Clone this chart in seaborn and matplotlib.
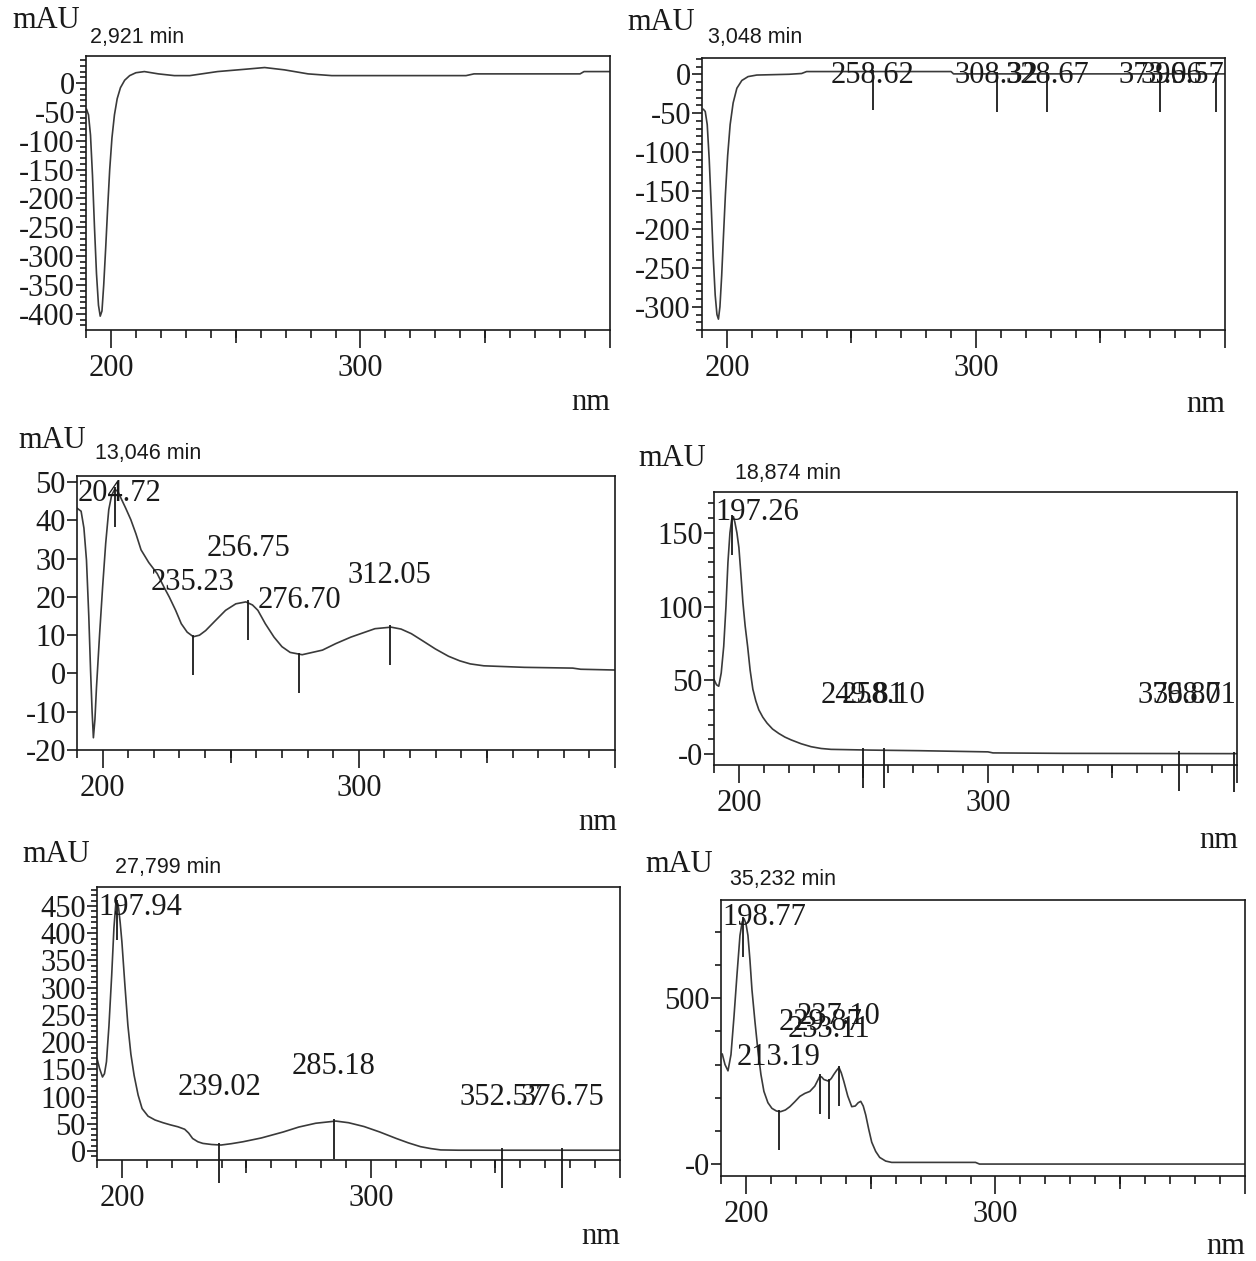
import matplotlib
matplotlib.use('Agg')
import matplotlib.pyplot as plt
import seaborn as sns
import pandas as pd
import numpy as np

sns.set_theme(style='ticks')
plt.rcParams['font.family'] = ['Liberation Serif', 'DejaVu Serif']

# ---- spectra (wavelength nm, absorbance mAU) ----
times = ['2,921 min', '3,048 min', '13,046 min', '18,874 min', '27,799 min', '35,232 min']

s1_nm = [190.2, 191.0, 191.8, 192.6, 193.4, 194.2, 195.0, 195.7, 196.4, 197.1, 197.9, 198.7,
         199.5, 200.4, 201.4, 202.5, 203.8, 205.5, 207.5, 210.0, 213.4, 219.0, 225.4, 231.6,
         242.7, 253.7, 261.6, 269.5, 279.0, 288.5, 342.3, 345.5, 388.0, 389.6, 400.0]
s1_mau = [-45, -55, -90, -160, -250, -330, -385, -404, -395, -350, -285, -215,
          -150, -95, -55, -27, -8, 5, 13, 18, 20, 16, 13, 13,
          20, 24, 27, 23, 16, 13, 13, 16, 16, 20, 20]

s2_nm = [190.5, 191.3, 192.1, 192.9, 193.7, 194.5, 195.3, 196.0, 196.6, 197.2, 197.9, 198.6,
         199.4, 200.3, 201.3, 202.5, 204.0, 206.0, 208.5, 212.0, 225.0, 230.0, 232.0, 290.0,
         291.0, 400.0]
s2_mau = [-45, -48, -65, -110, -170, -235, -285, -310, -316, -300, -260, -210,
          -155, -105, -65, -37, -18, -8, -3, -1, 0, 1, 3.5, 3.5,
          0.5, 0.5]

s3_nm = [190.0, 191.6, 192.7, 193.7, 194.6, 195.3, 195.9, 196.4, 197.0, 197.6, 198.8, 200.0,
         201.2, 202.4, 203.5, 204.7, 205.9, 207.1, 209.0, 211.0, 213.0, 215.0, 218.0, 221.3,
         224.0, 226.0, 228.5, 230.7, 233.0, 235.4, 237.8, 240.2, 244.0, 248.0, 252.0, 255.9,
         258.5, 260.6, 263.5, 266.9, 270.0, 273.2, 277.9, 285.8, 291.0, 296.9, 306.3, 312.6,
         316.5, 320.5, 325.0, 329.9, 335.0, 339.4, 343.5, 348.8, 364.6, 383.5, 386.6, 400.0]
s3_mau = [43.2, 42.4, 38.0, 29.6, 15.0, 0.7, -10.0, -16.8, -12.0, -3.7, 10.0, 22.6,
          34.0, 42.8, 46.5, 48.1, 47.6, 45.9, 43.2, 40.2, 36.5, 32.3, 29.0, 26.1,
          22.5, 20.0, 16.5, 13.0, 10.8, 9.6, 10.0, 11.2, 13.8, 16.5, 18.2, 18.7,
          17.9, 16.5, 13.0, 9.5, 7.0, 5.5, 4.9, 6.1, 7.8, 9.5, 11.7, 12.1,
          11.6, 10.4, 8.5, 6.4, 4.5, 3.3, 2.5, 2.0, 1.6, 1.4, 1.1, 0.9]

s4_nm = [190.0, 191.0, 191.9, 192.9, 193.9, 194.8, 195.6, 196.4, 197.1, 197.8, 198.4, 199.2,
         200.0, 200.8, 201.6, 202.5, 203.5, 204.5, 205.6, 206.8, 208.0, 209.6, 211.3, 213.5,
         216.0, 218.5, 221.0, 225.0, 229.0, 233.0, 237.0, 253.0, 272.6, 300.0, 302.0, 330.0, 400.0]
s4_mau = [50.6, 47, 46, 55, 73, 100, 130, 150, 159, 161, 157, 150,
          140, 122, 103, 87, 73, 57, 44, 36, 30, 25, 21, 17,
          14, 11.5, 9.6, 7, 5, 3.8, 3.2, 2.7, 2.3, 1.5, 0.8, 0.5, 0.3]

s5_nm = [190.0, 191.0, 192.2, 193.0, 193.8, 194.8, 195.9, 196.8, 197.6, 198.3, 198.7, 199.3,
         200.0, 201.2, 202.4, 203.6, 204.9, 206.5, 208.1, 210.5, 213.3, 216.5, 219.5, 222.5,
         225.2, 226.8, 228.4, 230.5, 232.5, 236.0, 239.8, 244.0, 248.6, 256.0, 264.8, 271.0,
         277.8, 285.9, 291.0, 297.2, 303.5, 310.2, 315.0, 319.9, 324.0, 328.0, 335.0, 400.0]
s5_mau = [170, 152, 136, 142, 164, 230, 323, 410, 457, 455, 445, 420,
          384, 305, 231, 178, 139, 103, 78, 64, 57, 52, 48, 44.5,
          40, 33, 23, 17, 14, 12, 11, 13.5, 17, 24, 35, 44,
          51, 55, 52, 45, 35, 23, 15, 8, 4.5, 2, 1.5, 1.5]

s6_nm = [190.5, 191.6, 192.8, 194.0, 195.2, 196.4, 197.6, 198.5, 199.2, 200.0, 200.8, 201.6,
         202.4, 203.6, 204.8, 206.0, 207.2, 208.8, 210.4, 212.2, 213.9, 215.8, 217.6, 219.6,
         221.6, 223.6, 225.6, 227.6, 229.6, 230.4, 231.2, 233.1, 234.2, 235.2, 236.3, 237.3,
         238.2, 239.2, 240.8, 242.4, 243.8, 245.0, 246.0, 247.0, 248.0, 249.2, 250.4, 252.0,
         253.6, 256.0, 258.4, 292.0, 293.6, 400.0]
s6_mau = [332, 300, 281, 330, 444, 570, 689, 730, 740, 725, 689, 615,
          526, 430, 342, 270, 219, 185, 168, 160, 158, 163, 173, 188,
          204, 213, 219, 235, 265, 262, 255, 250, 258, 270, 282, 291,
          275, 250, 205, 173, 175, 185, 189, 175, 148, 105, 66, 38,
          20, 9, 5, 5, 0, 0]

# ---- marked peaks / valleys (nm and absorbance at that point) ----
k1_nm, k1_mau = [], []
k2_nm = [258.62, 308.32, 328.67, 373.96, 396.57]
k2_mau = [3.5, 0.5, 0.5, 0.5, 0.5]
k3_nm = [204.72, 235.23, 256.75, 276.70, 312.05]
k3_mau = [48.1, 9.6, 18.7, 4.9, 12.1]
k4_nm = [197.26, 249.81, 258.10, 376.80, 398.71]
k4_mau = [161, 2.7, 2.7, 0.4, 0.3]
k5_nm = [197.94, 239.02, 285.18, 352.57, 376.75]
k5_mau = [457, 11, 55, 1.5, 1.5]
k6_nm = [198.77, 213.19, 229.87, 233.11, 237.10]
k6_mau = [740, 158, 265, 250, 291]

# ---- y axis ticks ----
yt1 = list(range(-400, 1, 50))
yt2 = list(range(-300, 1, 50))
yt3 = list(range(-20, 51, 10))
yt4, yl4 = [0, 50, 100, 150], ['-0', '50', '100', '150']
yt5 = list(range(0, 451, 50))
yt6, yl6 = [0, 500], ['-0', '500']

spectra = [(s1_nm, s1_mau), (s2_nm, s2_mau), (s3_nm, s3_mau),
           (s4_nm, s4_mau), (s5_nm, s5_mau), (s6_nm, s6_mau)]
marks = [(k1_nm, k1_mau), (k2_nm, k2_mau), (k3_nm, k3_mau),
         (k4_nm, k4_mau), (k5_nm, k5_mau), (k6_nm, k6_mau)]
yticks = [(yt1, [str(v) for v in yt1]), (yt2, [str(v) for v in yt2]),
          (yt3, [str(v) for v in yt3]), (yt4, yl4),
          (yt5, [str(v) for v in yt5]), (yt6, yl6)]

# ---- layout (pixels of the 1256x1261 image) ----
W, H, DPI = 1256, 1261, 100
boxes = [(86, 56, 610, 330), (702, 58, 1225, 330), (77, 476, 615, 750),
         (714, 492, 1237, 765), (97, 887, 620, 1160), (721, 900, 1245, 1176)]
ylims = [(-428, 47), (-330, 21), (-20, 51.6), (-7.4, 177.7), (-16.5, 485), (-36, 796)]
minor_step = [10, 10, None, 10, 10, 100]
label_y = [[], [-2] * 5, [46.9, 23.8, 32.7, 19.1, 25.7], [164, 40, 40, 40, 40],
           [448, 116, 156, 99, 99], [742, 321, 427, 406, 445]]
mau_pos = [(80, 20), (695, 22), (86, 440), (706, 458), (90, 855), (713, 865)]
time_pos = [(90, 38), (708, 38), (95, 453), (735, 473), (115, 867), (730, 880)]
nm_pos = [(610, 403), (1225, 405), (617, 823), (1238, 840), (620, 1236), (1245, 1247)]

INK = '#1a1a1a'
CURVE = '#3a3a3a'
FS = 22

fig = plt.figure(figsize=(W / DPI, H / DPI), dpi=DPI)
fig.patch.set_facecolor('white')

all_labels = []
for i in range(6):
    l, t, r, b = boxes[i]
    ax = fig.add_axes([l / W, 1 - b / H, (r - l) / W, (b - t) / H])
    ax_h = b - t
    nm, mau = spectra[i]
    df = pd.DataFrame({'nm': nm, 'mAU': mau})
    sns.lineplot(data=df, x='nm', y='mAU', ax=ax, color=CURVE, lw=1.2,
                 estimator=None, sort=False)
    ax.set_xlim(190, 400)
    ax.set_ylim(*ylims[i])
    ax.set_xlabel('')
    ax.set_ylabel('')
    for sp in ax.spines.values():
        sp.set_visible(True)
        sp.set_color(INK)
        sp.set_linewidth(1.2)

    # x axis: long ticks at 100s, medium at 50s, short at 10s
    ax.set_xticks([200, 300, 400], ['200', '300', ''])
    ax.set_xticks(np.arange(190, 401, 10), minor=True)
    ax.tick_params(axis='x', which='major', length=13, width=1.2, pad=4,
                   labelsize=FS, colors=INK, direction='out')
    ax.tick_params(axis='x', which='minor', length=5.5, width=1.2,
                   colors=INK, direction='out')
    ax.vlines([250, 350], 0, -13 / ax_h, transform=ax.get_xaxis_transform(),
              clip_on=False, color=INK, lw=1.2)

    # y axis
    yt, yl = yticks[i]
    ax.set_yticks(yt, yl)
    if minor_step[i]:
        lo, hi = ylims[i]
        st = minor_step[i]
        ax.set_yticks(np.arange(np.ceil(lo / st) * st, hi, st), minor=True)
    ax.tick_params(axis='y', which='major', length=7, width=1.2, pad=1,
                   labelsize=FS, colors=INK, direction='out')
    ax.tick_params(axis='y', which='minor', length=4.5, width=1.2,
                   colors=INK, direction='out')

    # peak markers and labels
    k_nm, k_mau = marks[i]
    span = ylims[i][1] - ylims[i][0]
    tick_len = 38 / ax_h * span
    up = 2 / ax_h * span
    if k_nm:
        ax.vlines(k_nm, [v - tick_len for v in k_mau], [v + up for v in k_mau],
                  color=INK, lw=1.3, clip_on=False)
    labels = []
    for x, ly in zip(k_nm, label_y[i]):
        txt = ax.text(x, ly, f'{x:.2f}', ha='center', va='center', fontsize=FS,
                      color=INK, clip_on=False)
        labels.append(txt)
    all_labels.append((ax, labels))

    # axis captions
    fig.text(mau_pos[i][0] / W, 1 - mau_pos[i][1] / H, 'mAU', ha='right',
             va='center', fontsize=FS, color=INK)
    fig.text(time_pos[i][0] / W, 1 - time_pos[i][1] / H, times[i], ha='left',
             va='center', fontsize=15.5, color=INK, family=['Liberation Sans', 'DejaVu Sans'])
    fig.text(nm_pos[i][0] / W, 1 - nm_pos[i][1] / H, 'nm', ha='right',
             va='center', fontsize=FS, color=INK)

# keep peak labels inside their plot frame, like the instrument software does
fig.canvas.draw()
renderer = fig.canvas.get_renderer()
for ax, labels in all_labels:
    bb_ax = ax.get_window_extent(renderer)
    for txt in labels:
        bb = txt.get_window_extent(renderer)
        shift = 0
        if bb.x0 < bb_ax.x0:
            shift = bb_ax.x0 - bb.x0 + 1
        elif bb.x1 > bb_ax.x1:
            shift = bb_ax.x1 - bb.x1 - 1
        if shift:
            x, y = txt.get_position()
            px = ax.transData.transform((x, y))[0] + shift
            txt.set_x(ax.transData.inverted().transform((px, 0))[0])

fig.savefig('out.png', dpi=DPI, facecolor='white')
